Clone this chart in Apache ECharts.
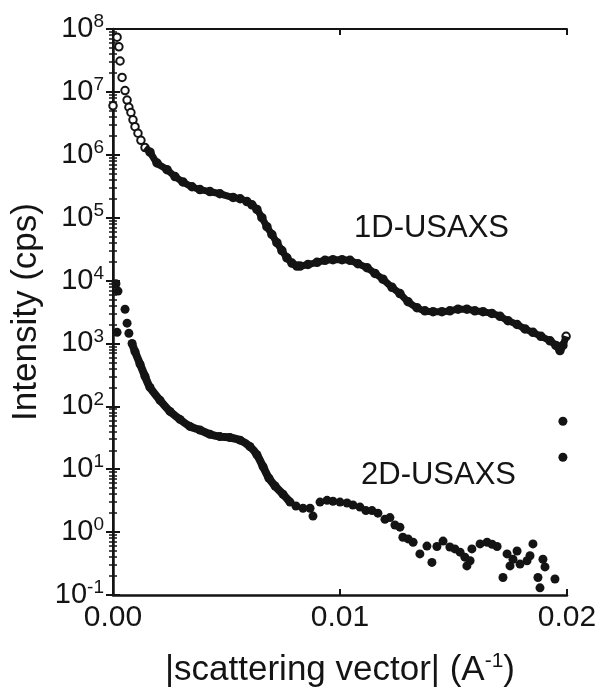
<!DOCTYPE html>
<html lang="en">
<head>
    <meta charset="UTF-8">
    <title>1D-USAXS vs 2D-USAXS</title>
    <script src="https://cdn.jsdelivr.net/npm/echarts@6/dist/echarts.min.js"></script>
    <style>
        html, body { margin: 0; padding: 0; background: #ffffff; }
        #chart { width: 604px; height: 697px; }
    </style>
</head>
<body>
    <div id="chart"></div>
    <script>
        // 1D-USAXS (open circles) - scattering vector (A^-1) and intensity (cps)
        let q1D = [0, 0.00018, 0.00026, 0.00031, 0.0004, 0.00053, 0.00062, 0.0007, 0.00079, 0.00088,
            0.00097, 0.0011, 0.00123, 0.00141, 0.00163, 0.00194, 0.00238, 0.00273, 0.00308, 0.00348,
            0.00383, 0.00427, 0.00471, 0.00529, 0.0056, 0.0059, 0.00612, 0.00634, 0.00656, 0.00678,
            0.007, 0.00722, 0.00744, 0.00766, 0.00788, 0.0081, 0.00824, 0.00859, 0.00899, 0.00934,
            0.00969, 0.01009, 0.01044, 0.01079, 0.01119, 0.01154, 0.01189, 0.01229, 0.01264, 0.013,
            0.01339, 0.01374, 0.0141, 0.01449, 0.01484, 0.0152, 0.01559, 0.01594, 0.0163, 0.01669,
            0.01705, 0.0174, 0.0178, 0.01815, 0.0185, 0.01885, 0.01925, 0.01951, 0.01969, 0.01982, 0.01996];
        let i1D = [6.0e6, 7.4e7, 5.2e7, 3.1e7, 1.7e7, 1.05e7, 7.4e6, 5.7e6, 4.7e6, 3.6e6,
            2.8e6, 2.2e6, 1.7e6, 1.3e6, 1.1e6, 7.4e5, 5.8e5, 4.5e5, 3.7e5, 3.1e5,
            2.8e5, 2.6e5, 2.4e5, 2.1e5, 2.0e5, 1.8e5, 1.6e5, 1.35e5, 1.0e5, 7.2e4,
            5.4e4, 4.0e4, 3.0e4, 2.3e4, 1.9e4, 1.7e4, 1.7e4, 1.8e4, 1.95e4, 2.1e4,
            2.15e4, 2.15e4, 2.1e4, 1.85e4, 1.6e4, 1.3e4, 1.05e4, 7.8e3, 6.2e3, 4.6e3,
            3.7e3, 3.3e3, 3.2e3, 3.2e3, 3.3e3, 3.5e3, 3.5e3, 3.3e3, 3.2e3, 3.0e3,
            2.7e3, 2.3e3, 2.0e3, 1.7e3, 1.5e3, 1.3e3, 1.1e3, 930, 770, 930, 1300];

        // 2D-USAXS (filled dots)
        let q2D = [0.00013, 0.00018, 0.00022, 0.00053, 0.00062, 0.0007, 0.00084, 0.00097, 0.00119, 0.00141,
            0.00163, 0.00207, 0.00251, 0.00295, 0.00339, 0.00383, 0.00427, 0.00471, 0.00515, 0.0056,
            0.00603, 0.00634, 0.00661, 0.00687, 0.00714, 0.00749, 0.0078, 0.00806, 0.00837, 0.00868,
            0.00881, 0.00912, 0.00943, 0.00969, 0.01, 0.01031, 0.01057, 0.01088, 0.01114, 0.01141,
            0.01167, 0.01198, 0.0122, 0.01242, 0.01264, 0.01277, 0.013, 0.01322, 0.01352, 0.01383,
            0.01405, 0.01427, 0.01454, 0.01484, 0.01506, 0.01529, 0.0155, 0.01559, 0.01573, 0.01581,
            0.01617, 0.01648, 0.0167, 0.01692, 0.01718, 0.01736, 0.01749, 0.01762, 0.0178, 0.01793,
            0.01824, 0.01837, 0.0185, 0.01872, 0.01881, 0.01894, 0.01903, 0.01947, 0.01982, 0.01982];
        let i2D = [8.9e3, 1.5e3, 6.8e3, 3.5e3, 2.1e3, 1.45e3, 1.0e3, 740, 470, 300,
            200, 125, 83, 62, 48, 42, 36, 33, 32, 29,
            23, 17, 11, 7.2, 5.4, 4.0, 3.0, 2.6, 2.4, 2.4,
            1.8, 3.0, 3.2, 3.1, 3.0, 2.9, 2.7, 2.5, 2.2, 2.2,
            2.0, 1.6, 1.7, 1.3, 1.2, 0.83, 0.78, 0.69, 0.45, 0.60,
            0.33, 0.59, 0.72, 0.58, 0.54, 0.48, 0.40, 0.29, 0.35, 0.54,
            0.65, 0.69, 0.64, 0.59, 0.19, 0.45, 0.29, 0.37, 0.50, 0.31,
            0.35, 0.42, 0.65, 0.19, 0.13, 0.37, 0.28, 0.18, 15.5, 58];

        let xTicks = [0, 0.01, 0.02];
        let yMin = 0.1, yMax = 1e8;

        let font = 'Liberation Sans, Arial, Helvetica, sans-serif';
        let ink = '#141414';

        let pts1D = q1D.map((q, k) => [q, i1D[k]]);
        let pts2D = q2D.map((q, k) => [q, i2D[k]]);
        // dense parts are drawn as a thick band, like overlapping markers
        let band1D = pts1D.filter(p => p[0] >= 0.0014);
        let band2D = pts2D.filter(p => p[0] >= 0.0008 && p[0] <= 0.0079);

        function powLabel(v) {
            let e = Math.round(Math.log10(v));
            return '{b|10}{s|' + e + '}';
        }

        let option = {
            animation: false,
            backgroundColor: '#ffffff',
            grid: { left: 113, right: 37, top: 29, bottom: 102 },
            xAxis: [
                {
                    type: 'value', min: xTicks[0], max: xTicks[2], interval: 0.01,
                    name: '|scattering vector| (A{s|-1})',
                    nameLocation: 'middle', nameGap: 56,
                    nameTextStyle: {
                        color: ink, fontFamily: font, fontSize: 35,
                        rich: { s: { fontFamily: font, fontSize: 21, padding: [0, 0, 17, 0], color: ink } }
                    },
                    axisLine: { lineStyle: { color: ink, width: 2.5 } },
                    axisTick: { inside: true, length: 6, lineStyle: { color: ink, width: 2 } },
                    axisLabel: {
                        color: ink, fontFamily: font, fontSize: 30, margin: 8,
                        formatter: v => v.toFixed(2)
                    },
                    splitLine: { show: false }
                },
                {
                    type: 'value', position: 'top', min: xTicks[0], max: xTicks[2], interval: 0.01,
                    axisLine: { lineStyle: { color: ink, width: 2 } },
                    axisTick: { inside: true, length: 6, lineStyle: { color: ink, width: 2 } },
                    axisLabel: { show: false },
                    splitLine: { show: false }
                }
            ],
            yAxis: [
                {
                    type: 'log', logBase: 10, min: yMin, max: yMax,
                    name: 'Intensity (cps)',
                    nameLocation: 'middle', nameGap: 68,
                    nameTextStyle: { color: ink, fontFamily: font, fontSize: 35 },
                    axisLine: { lineStyle: { color: ink, width: 2.5 } },
                    axisTick: { inside: true, length: 7, lineStyle: { color: ink, width: 2 } },
                    minorTick: { show: true, splitNumber: 9, length: 4, lineStyle: { color: ink, width: 1.5 } },
                    axisLabel: {
                        color: ink, margin: 9,
                        formatter: powLabel,
                        rich: {
                            b: { fontFamily: font, fontSize: 29, color: ink },
                            s: { fontFamily: font, fontSize: 19, color: ink, padding: [0, 0, 14, 0] }
                        }
                    },
                    splitLine: { show: false },
                    minorSplitLine: { show: false }
                },
                {
                    type: 'log', logBase: 10, min: yMin, max: yMax, position: 'right',
                    axisLine: { lineStyle: { color: ink, width: 2 } },
                    axisTick: { inside: true, length: 7, lineStyle: { color: ink, width: 2 } },
                    minorTick: { show: true, splitNumber: 9, length: 4, lineStyle: { color: ink, width: 1.5 } },
                    axisLabel: { show: false },
                    splitLine: { show: false }
                }
            ],
            graphic: [
                {
                    type: 'text', left: 354, top: 213,
                    style: { text: '1D-USAXS', fontFamily: font, fontSize: 31, fill: ink }
                },
                {
                    type: 'text', left: 361, top: 460,
                    style: { text: '2D-USAXS', fontFamily: font, fontSize: 31, fill: ink }
                }
            ],
            series: [
                {
                    name: '1D-USAXS band', type: 'line', data: band1D, smooth: 0.3,
                    showSymbol: false, symbol: 'none',
                    lineStyle: { color: ink, width: 7 }, z: 3
                },
                {
                    name: '1D-USAXS', type: 'scatter', data: pts1D,
                    symbol: 'emptyCircle', symbolSize: 7.5,
                    itemStyle: { color: ink, borderColor: ink, borderWidth: 2.4, opacity: 1 }, z: 2
                },
                {
                    name: '2D-USAXS band', type: 'line', data: band2D, smooth: 0.3,
                    showSymbol: false, symbol: 'none',
                    lineStyle: { color: ink, width: 8 }, z: 2
                },
                {
                    name: '2D-USAXS', type: 'scatter', data: pts2D,
                    symbol: 'circle', symbolSize: 9,
                    itemStyle: { color: ink, opacity: 1 }, z: 3
                }
            ]
        };

        let chart = echarts.init(document.getElementById('chart'));
        chart.setOption(option);
    </script>
</body>
</html>
